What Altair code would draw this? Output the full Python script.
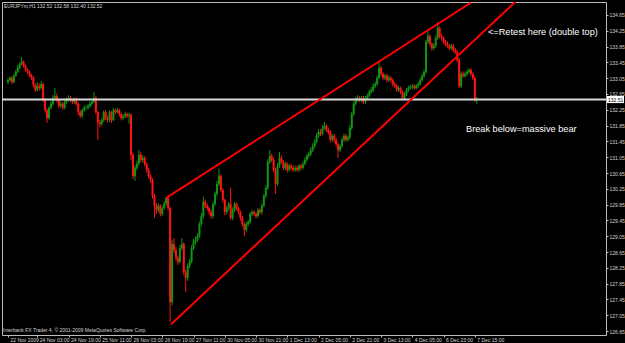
import altair as alt
import pandas as pd

# ---------------- data (EURJPYm, H1) ----------------
first_open = 132.95

close = [
    133.00, 133.06, 132.95, 133.11, 133.21, 133.31, 133.41, 133.46, 133.36, 133.26,
    133.21, 133.13, 133.06, 132.88, 132.75, 132.85, 132.80, 132.90, 132.50, 132.24,
    132.04, 132.30, 132.40, 132.55, 132.60, 132.50, 132.35, 132.40, 132.30, 132.45,
    132.50, 132.55, 132.50, 132.45, 132.50, 132.40, 132.19, 132.09, 132.24, 132.30,
    132.30, 132.35, 132.40, 132.45, 132.55, 132.19, 131.94, 131.89, 131.99, 132.19,
    132.04, 131.99, 132.19, 131.99, 132.24, 132.19, 132.24, 132.14, 132.04, 132.09,
    132.14, 132.09, 132.12, 131.11, 130.57, 130.78, 130.88, 131.11, 130.98, 131.03,
    130.88, 130.73, 130.57, 130.47, 130.07, 129.82, 129.71, 129.82, 129.61, 129.76,
    129.87, 130.02, 129.76, 127.38, 128.85, 128.70, 128.50, 128.40, 128.75, 128.85,
    128.14, 127.99, 128.30, 128.40, 128.75, 128.90, 128.95, 129.05, 129.36, 129.56,
    129.92, 129.82, 129.76, 129.66, 129.56, 129.87, 130.12, 130.37, 130.57, 130.22,
    129.97, 129.66, 129.76, 129.87, 129.51, 129.71, 129.87, 129.76, 129.66, 129.51,
    129.36, 129.21, 129.36, 129.41, 129.61, 129.66, 129.61, 129.56, 129.71, 129.66,
    129.82, 130.07, 130.27, 130.93, 131.08, 130.98, 130.73, 130.37, 130.83, 131.03,
    130.93, 130.78, 130.88, 130.73, 130.83, 130.78, 130.73, 130.78, 130.73, 130.83,
    130.78, 130.88, 130.98, 131.08, 131.13, 131.23, 131.33, 131.44, 131.59, 131.69,
    131.64, 131.79, 131.84, 131.74, 131.69, 131.49, 131.59, 131.49, 131.38, 131.23,
    131.33, 131.49, 131.59, 131.49, 131.54, 131.79, 132.14, 132.40, 132.50, 132.55,
    132.50, 132.55, 132.45, 132.55, 132.60, 132.70, 132.75, 132.85, 132.90, 133.06,
    133.31, 133.16, 133.06, 133.11, 133.00, 133.06, 133.00, 132.90, 132.85, 132.75,
    132.80, 132.70, 132.55, 132.65, 132.75, 132.80, 132.83, 132.85, 132.80, 132.85,
    132.90, 133.00, 133.11, 133.21, 133.97, 134.12, 133.92, 133.81, 133.87, 134.07,
    134.32, 134.12, 134.07, 133.97, 133.92, 133.87, 133.81, 133.87, 133.76, 133.71,
    133.51, 132.85, 133.16, 133.11, 133.16, 133.21, 133.26, 133.16, 133.06, 132.52,
    132.52,
]

high = [
    133.05, 133.10, 133.10, 133.16, 133.26, 133.38, 133.45, 133.59, 133.50, 133.40,
    133.30, 133.25, 133.16, 133.10, 132.92, 132.95, 132.92, 132.98, 132.94, 132.55,
    132.28, 132.34, 132.46, 132.62, 132.80, 132.66, 132.54, 132.46, 132.44, 132.52,
    132.56, 132.62, 132.60, 132.54, 132.56, 132.56, 132.44, 132.24, 132.28, 132.36,
    132.36, 132.40, 132.46, 132.50, 132.70, 132.60, 132.22, 132.00, 132.04, 132.24,
    132.24, 132.10, 132.24, 132.22, 132.30, 132.28, 132.30, 132.28, 132.18, 132.14,
    132.20, 132.18, 132.18, 132.16, 131.16, 130.84, 130.96, 131.23, 131.18, 131.10,
    131.08, 130.92, 130.78, 130.62, 130.52, 130.12, 129.88, 129.88, 129.86, 129.82,
    129.94, 130.04, 130.05, 129.80, 128.95, 129.00, 128.78, 128.56, 128.82, 129.00,
    128.90, 128.20, 128.36, 128.48, 128.82, 128.98, 129.04, 129.12, 129.42, 129.64,
    130.05, 129.98, 129.88, 129.80, 129.72, 129.92, 130.18, 130.45, 130.76, 130.62,
    130.26, 130.00, 129.82, 129.92, 130.28, 129.78, 129.92, 129.90, 129.80, 129.70,
    129.56, 129.40, 129.42, 129.46, 129.66, 129.72, 129.70, 129.66, 129.76, 129.76,
    129.88, 130.12, 130.34, 131.00, 131.23, 131.14, 131.04, 130.78, 130.90, 131.18,
    131.10, 130.98, 130.94, 130.92, 130.88, 130.88, 130.84, 130.84, 130.84, 130.88,
    130.88, 130.94, 131.04, 131.14, 131.18, 131.30, 131.40, 131.50, 131.66, 131.76,
    131.76, 131.86, 131.94, 131.88, 131.80, 131.74, 131.64, 131.64, 131.54, 131.42,
    131.38, 131.54, 131.64, 131.64, 131.60, 131.86, 132.20, 132.46, 132.58, 132.62,
    132.60, 132.60, 132.60, 132.60, 132.66, 132.76, 132.82, 132.92, 132.96, 133.12,
    133.46, 133.36, 133.20, 133.16, 133.16, 133.12, 133.10, 133.04, 132.96, 132.90,
    132.86, 132.84, 132.74, 132.70, 132.80, 132.86, 132.88, 132.90, 132.90, 132.90,
    132.96, 133.06, 133.16, 133.26, 134.02, 134.27, 134.16, 133.96, 133.94, 134.14,
    134.47, 134.36, 134.18, 134.10, 134.02, 133.98, 133.92, 133.92, 133.92, 133.82,
    133.76, 133.56, 133.22, 133.22, 133.22, 133.26, 133.30, 133.30, 133.20, 133.10,
    132.58,
]

low = [
    132.90, 132.96, 132.90, 132.92, 133.08, 133.18, 133.28, 133.38, 133.32, 133.22,
    133.16, 133.08, 133.00, 132.82, 132.70, 132.72, 132.74, 132.76, 132.45, 132.18,
    131.92, 132.00, 132.26, 132.36, 132.50, 132.44, 132.30, 132.30, 132.24, 132.26,
    132.40, 132.46, 132.44, 132.40, 132.40, 132.36, 132.12, 132.04, 132.05, 132.20,
    132.24, 132.26, 132.30, 132.36, 132.42, 132.14, 131.49, 131.80, 131.84, 131.94,
    131.98, 131.92, 131.94, 131.92, 131.96, 132.14, 132.16, 132.08, 131.98, 132.00,
    132.04, 132.04, 131.90, 130.98, 130.50, 130.45, 130.72, 130.84, 130.92, 130.92,
    130.82, 130.66, 130.52, 130.40, 130.00, 129.51, 129.62, 129.66, 129.55, 129.56,
    129.72, 129.82, 129.70, 126.88, 127.30, 128.62, 128.42, 128.32, 128.36, 128.70,
    128.06, 127.64, 127.92, 128.24, 128.36, 128.70, 128.84, 128.90, 129.00, 129.30,
    129.50, 129.76, 129.70, 129.58, 129.50, 129.50, 129.82, 130.06, 130.32, 130.16,
    129.90, 129.58, 129.60, 129.70, 129.46, 129.46, 129.66, 129.70, 129.60, 129.44,
    129.30, 129.05, 129.16, 129.30, 129.36, 129.56, 129.55, 129.50, 129.52, 129.60,
    129.60, 129.78, 130.02, 130.22, 130.88, 130.92, 130.66, 130.12, 130.32, 130.78,
    130.88, 130.72, 130.72, 130.66, 130.68, 130.72, 130.68, 130.68, 130.68, 130.68,
    130.72, 130.74, 130.84, 130.94, 131.02, 131.08, 131.18, 131.28, 131.40, 131.54,
    131.58, 131.60, 131.74, 131.68, 131.62, 131.42, 131.44, 131.42, 131.32, 131.03,
    131.18, 131.28, 131.44, 131.44, 131.44, 131.50, 131.74, 132.10, 132.36, 132.46,
    132.44, 132.44, 132.40, 132.40, 132.50, 132.56, 132.66, 132.70, 132.80, 132.86,
    133.02, 133.10, 133.00, 133.00, 132.94, 132.96, 132.94, 132.84, 132.80, 132.70,
    132.70, 132.64, 132.50, 132.50, 132.60, 132.70, 132.76, 132.78, 132.76, 132.76,
    132.80, 132.86, 132.96, 133.06, 133.16, 133.92, 133.86, 133.74, 133.76, 133.82,
    134.02, 134.06, 134.00, 133.92, 133.86, 133.82, 133.76, 133.76, 133.70, 133.66,
    133.46, 132.80, 132.80, 133.06, 133.06, 133.10, 133.16, 133.10, 133.00, 132.45,
    132.40,
]

tick_bars = [0, 15, 31, 47, 63, 79, 95, 111, 127, 143, 159, 175, 191, 207, 223, 239]
tick_labels = ["22 Nov 2009", "24 Nov 03:00", "24 Nov 19:00", "25 Nov 11:00",
               "26 Nov 03:00", "26 Nov 19:00", "27 Nov 11:00", "30 Nov 05:00",
               "30 Nov 21:00", "1 Dec 13:00", "2 Dec 05:00", "2 Dec 21:00",
               "3 Dec 13:00", "4 Dec 05:00", "6 Dec 23:00", "7 Dec 15:00"]
price_ticks = [126.65, 127.05, 127.45, 127.85, 128.25, 128.65, 129.05, 129.45,
               129.85, 130.25, 130.65, 131.05, 131.45, 131.85, 132.25, 132.65,
               133.05, 133.45, 133.85, 134.25, 134.65]
bid = 132.51

trend_name = ["upper", "upper", "lower", "lower"]
trend_bar = [81, 237, 83.5, 260.3]
trend_price = [130.02, 134.96, 126.82, 135.01]

header = "EURJPYm,H1  132.52 132.58 132.40 132.52"
footer = "Interbank FX Trader 4, \u00a9 2001-2009 MetaQuotes Software Corp."
note_top = "<=Retest here (double top)"
note_bottom = "Break below=massive bear"

# ---------------- tables ----------------
opens = [first_open] + close[:-1]
df = pd.DataFrame({"bar": list(range(len(close))), "open": opens,
                   "high": high, "low": low, "close": close})
df["dir"] = ["up" if c >= o else "down" for o, c in zip(opens, close)]
lines_df = pd.DataFrame({"name": trend_name, "bar": trend_bar, "price": trend_price})

GREEN = "#119611"
RED = "#ff1414"
FG = "#d4d4d4"
FONT = "Liberation Sans"
SMALL_SIZE = 5.0

xscale = alt.Scale(domain=[-0.5, 303.6], nice=False, zero=False)
yscale = alt.Scale(domain=[126.549, 134.979], nice=False, zero=False)

label_expr = ("[" + ",".join(f"'{t}'" for t in tick_labels) + "][indexof(["
              + ",".join(str(b) for b in tick_bars) + "], datum.value)]")

xaxis = alt.Axis(values=tick_bars, labelExpr=label_expr, title=None,
                 labelAlign="left", labelBaseline="top", labelFontSize=SMALL_SIZE,
                 labelColor=FG, labelFont=FONT, labelPadding=0, labelOffset=2,
                 tickSize=2, tickColor="#bdbdbd", domain=False, grid=False,
                 labelOverlap=False, labelFlush=False)
yaxis = alt.Axis(values=price_ticks, orient="right", format=".2f", title=None,
                 labelFontSize=SMALL_SIZE, labelColor=FG, labelFont=FONT, labelPadding=1,
                 tickSize=2, tickColor="#bdbdbd", domain=False, grid=False,
                 labelOverlap=False, labelBaseline="middle", labelFlush=False)
color = alt.Color("dir:N", scale=alt.Scale(domain=["up", "down"], range=[GREEN, RED]),
                  legend=None)


def X(field):
    return alt.X(field, scale=xscale, axis=xaxis)


def Y(field):
    return alt.Y(field, scale=yscale, axis=yaxis)


base = alt.Chart(df)
wicks = base.mark_rule(strokeWidth=1).encode(
    x=X("bar:Q"), y=Y("low:Q"), y2="high:Q", color=color,
)
bodies = base.mark_bar(size=2).encode(
    x=X("bar:Q"), y=Y("open:Q"), y2="close:Q", color=color
)

bid_df = pd.DataFrame({"p": [bid], "hi": [bid + 0.09], "lo": [bid - 0.09],
                       "t": [f"{bid:.2f}"]})
bid_line = alt.Chart(bid_df).mark_rule(color="#d8d8d8", strokeWidth=2).encode(y=Y("p:Q"))

trend = alt.Chart(lines_df).mark_line(color="#ff0000", strokeWidth=2, clip=True).encode(
    x=X("bar:Q"), y=Y("price:Q"), detail="name:N"
)


def label(text, x, y, size, color="#ffffff"):
    return alt.Chart(pd.DataFrame({"t": [text]})).mark_text(
        align="left", baseline="middle", fontSize=size, font=FONT, color=color
    ).encode(text="t:N", x=alt.value(x), y=alt.value(y))


t_header = label(header, 2, 4, SMALL_SIZE, FG)
t_footer = label(footer, 1, 328, SMALL_SIZE, FG)
t_top = label(note_top, 486, 30, 9.2)
t_bottom = label(note_bottom, 464, 127, 9.2)

box = alt.Chart(bid_df).mark_rect(color="#ffffff").encode(
    x=alt.value(605), x2=alt.value(622), y=Y("hi:Q"), y2="lo:Q"
)
box_text = alt.Chart(bid_df).mark_text(
    align="left", baseline="middle", fontSize=SMALL_SIZE, font=FONT, color="#000000"
).encode(x=alt.value(606), y=Y("p:Q"), text="t:N")

chart = alt.layer(
    wicks, bodies, bid_line, trend, t_header, t_footer, t_top, t_bottom, box, box_text
).properties(
    width=604, height=333, background="#000000",
    padding={"left": 2, "top": 2, "right": 19, "bottom": 8},
    autosize=alt.AutoSizeParams(type="none"),
).configure_view(stroke="#bdbdbd", strokeWidth=1)

chart.save("out.html", embed_options={"renderer": "svg", "actions": False})
